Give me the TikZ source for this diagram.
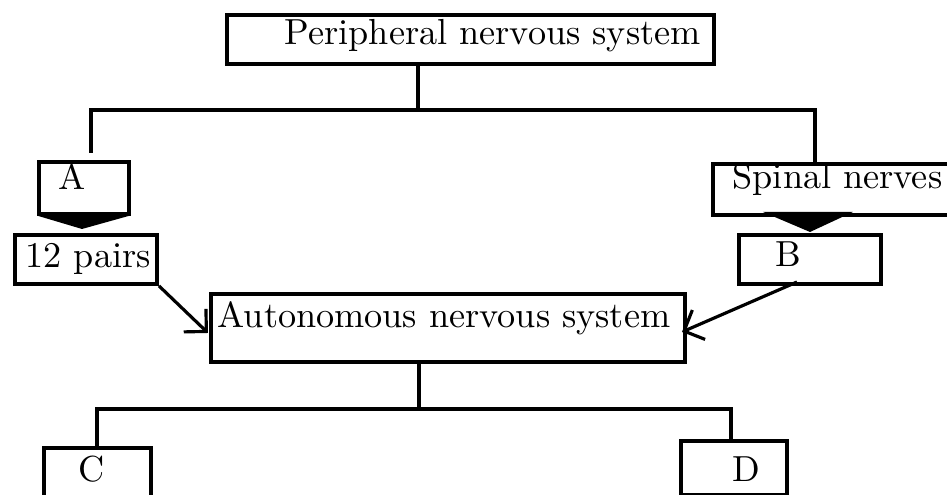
\documentclass[tikz,border=0pt]{standalone}
\usetikzlibrary{arrows.meta}
\begin{document}
\begin{tikzpicture}[x=0.01cm,y=-0.01cm,
        box/.style={draw,line width=1.1pt,anchor=north west,inner sep=0pt},
        txt/.style={anchor=base west,inner sep=0pt,font=\fontsize{10.3}{12}\selectfont},
        link/.style={line width=1pt},
        arr/.style={line width=0.9pt,-{Straight Barb[length=1.6mm,width=3.2mm]}}]
        \useasboundingbox (0,0) rectangle (947,495);

        % boxes
        \node[box,minimum width=4.87cm,minimum height=0.49cm] (per) at (225,13) {};
        \node[box,minimum width=0.90cm,minimum height=0.52cm] (A) at (37,160) {};
        \node[box,minimum width=1.42cm,minimum height=0.49cm] (pairs) at (13,233) {};
        \node[box,minimum width=2.50cm,minimum height=0.51cm] (spinal) at (711,162) {};
        \node[box,minimum width=1.42cm,minimum height=0.49cm] (B) at (737,233) {};
        \node[box,minimum width=4.74cm,minimum height=0.68cm] (auto) at (209,292) {};
        \node[box,minimum width=1.07cm,minimum height=0.56cm] (C) at (42,446) {};
        \node[box,minimum width=1.06cm,minimum height=0.54cm] (D) at (679,439) {};

        % texts
        \node[txt] (per-t) at (284,45) {Peripheral nervous system};
        \node[txt] (A-t) at (58,190) {A};
        \node[txt] (pairs-t) at (25,268) {12 pairs};
        \node[txt] (spinal-t) at (732,189) {Spinal nerves};
        \node[txt] (B-t) at (775,267) {B};
        \node[txt] (auto-t) at (217,328) {Autonomous nervous system};
        \node[txt] (C-t) at (78,482) {C};
        \node[txt] (D-t) at (732,482) {D};

        % joints
        \coordinate (pj) at (418,110);
        \coordinate (pl) at (91,110);
        \coordinate (pr) at (815,110);
        \coordinate (al) at (91,153);
        \coordinate (aj) at (419,409);
        \coordinate (cl) at (97,409);
        \coordinate (dr) at (731,409);
        \coordinate (atip) at (82,229);
        \coordinate (btip) at (810,232);
        \coordinate (ltip) at (208,333);
        \coordinate (rtip) at (682,332);
        \coordinate (bfoot) at (797,282);

        % tree lines
        \draw[link] (pj |- per.south) -- (pj);
        \draw[link] (al) -- (pl) -- (pr) -- (pr |- spinal.north);
        \draw[link] (aj |- auto.south) -- (aj);
        \draw[link] (cl |- C.north) -- (cl) -- (dr) -- (dr |- D.north);

        % black wedges
        \fill ([xshift=0.01cm]A.south west) -- ([xshift=-0.02cm]A.south east) -- (atip) -- cycle;
        \fill (763,212) -- (853,212) -- (btip) -- cycle;

        % arrows
        \draw[arr] (pairs.south east) -- (ltip);
        \draw[arr] (bfoot) -- (rtip);
\end{tikzpicture}
\end{document}
